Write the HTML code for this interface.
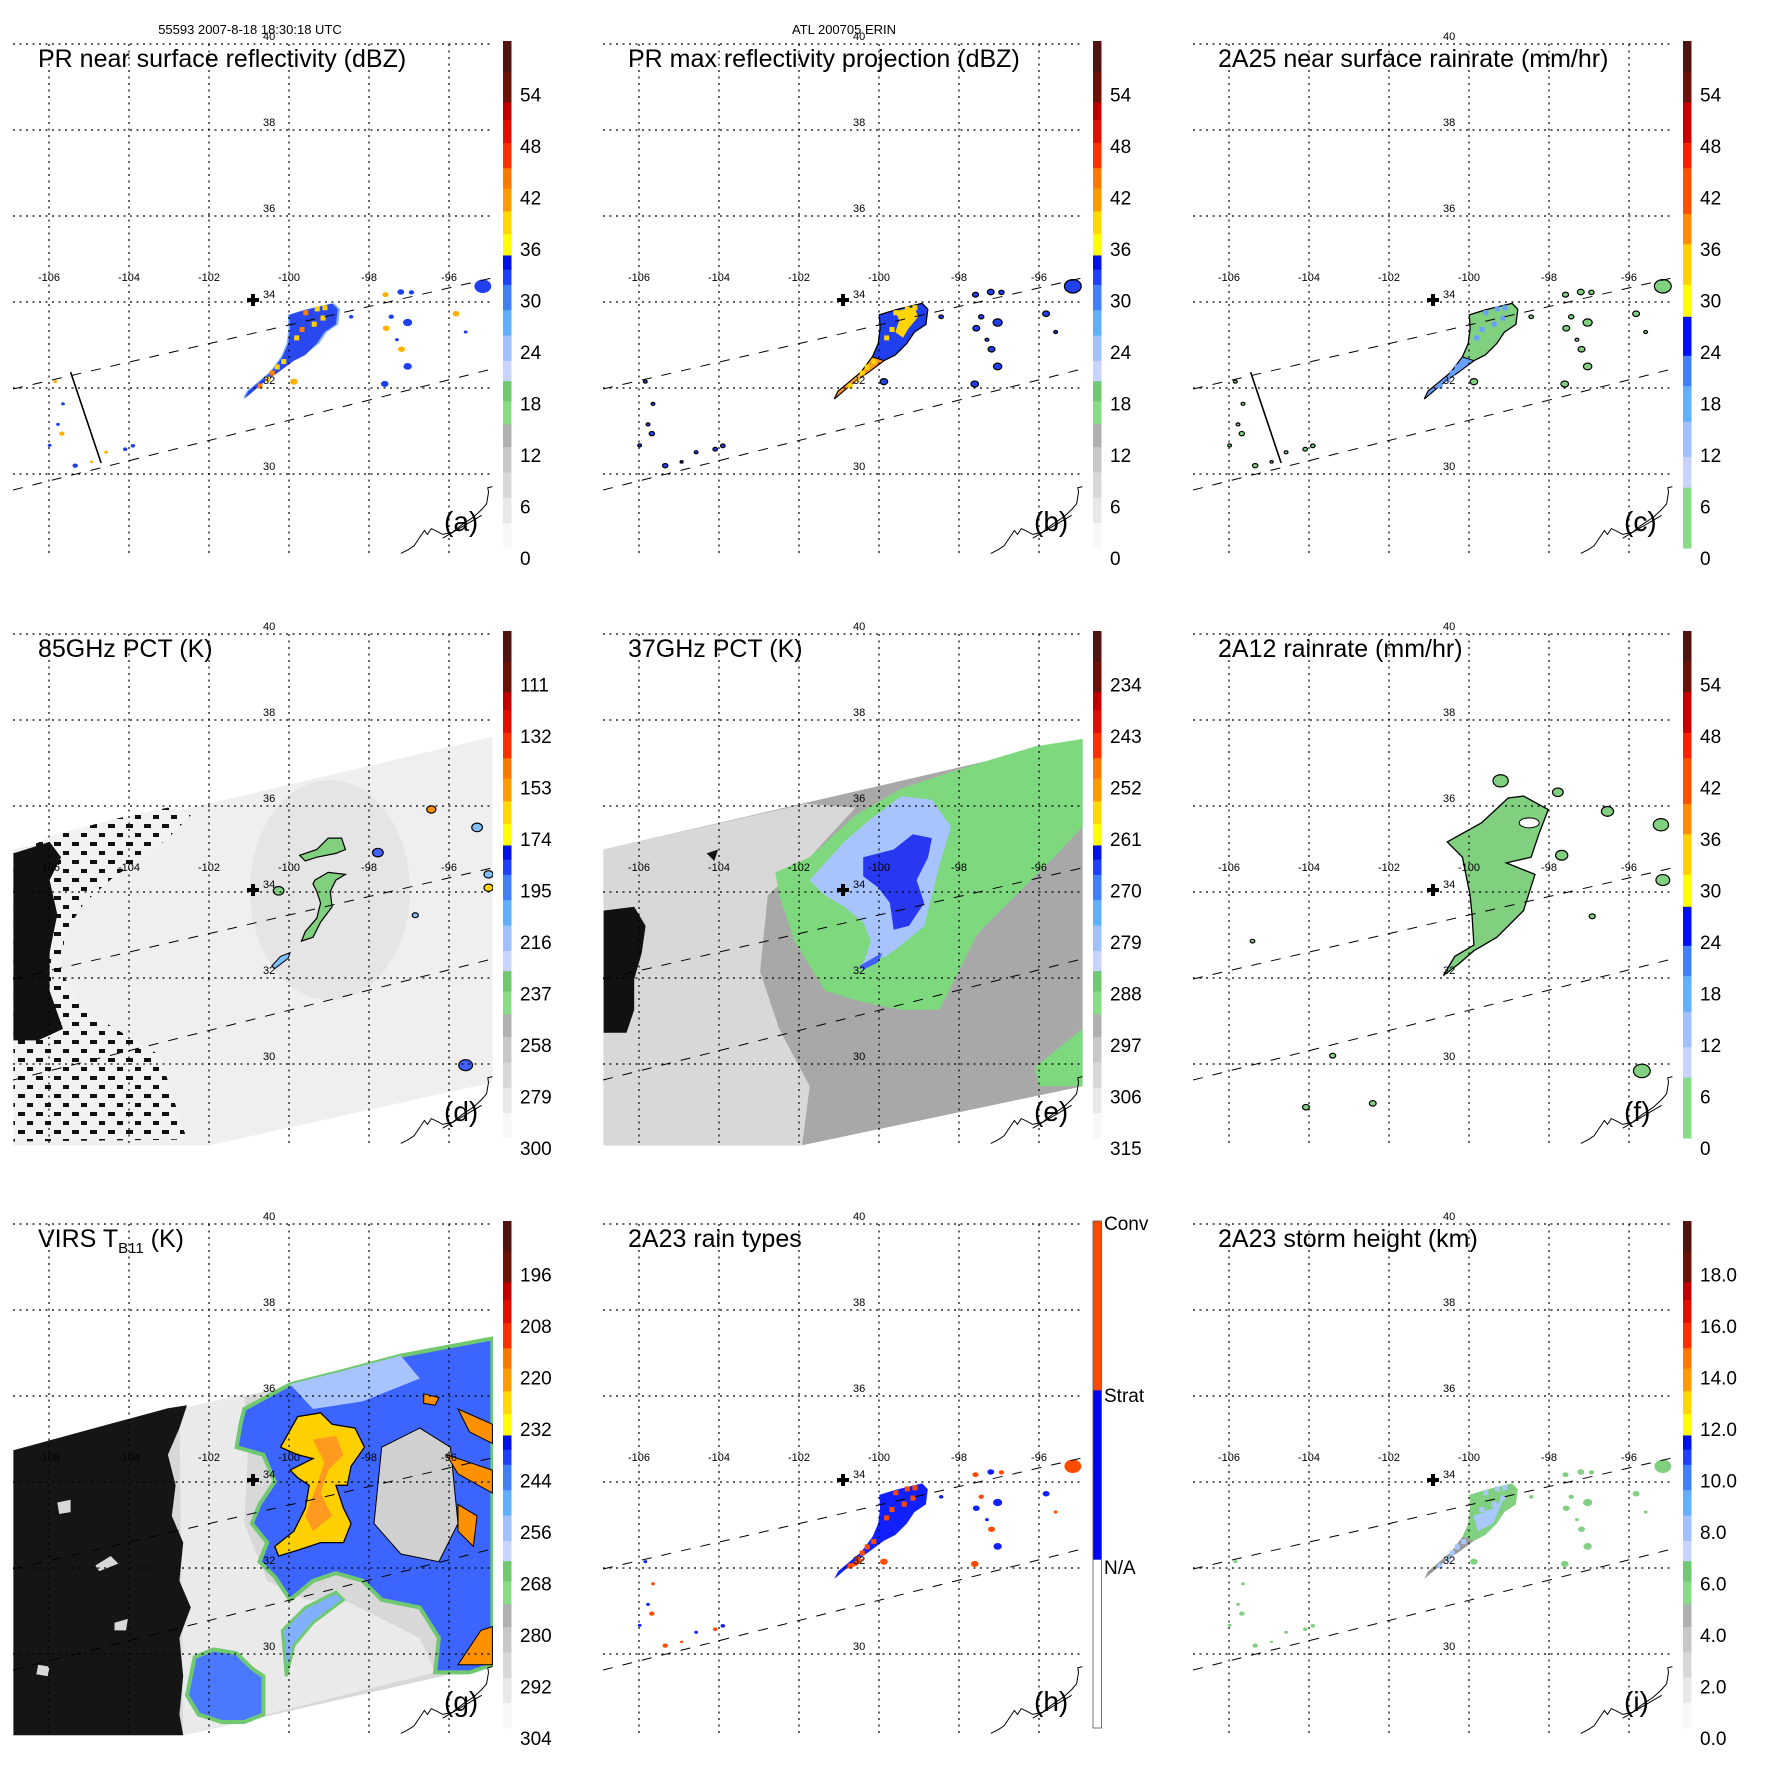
<!DOCTYPE html>
<html><head><meta charset="utf-8"><style>
html,body{margin:0;padding:0;background:#fff;}
svg{display:block;font-family:"Liberation Sans",sans-serif;}
</style></head><body>
<svg id="fig" width="1771" height="1771" viewBox="0 0 1771 1771" xmlns="http://www.w3.org/2000/svg">
<defs>
<pattern id="scat" width="18" height="18" patternUnits="userSpaceOnUse">
<rect width="18" height="18" fill="#f2f2f2"/>
<rect x="0" y="0" width="7" height="4" fill="#111"/>
<rect x="9" y="9" width="6" height="4" fill="#111"/>
</pattern>
</defs>
<text x="250" y="34" font-size="13" text-anchor="middle">55593 2007-8-18 18:30:18 UTC</text>
<text x="844" y="34" font-size="13" text-anchor="middle">ATL 200705 ERIN</text>
</svg>
<script>
// ---- colorbar data ----
const labelsA=['0','6','12','18','24','30','36','42','48','54'];
const labelsD=['300','279','258','237','216','195','174','153','132','111'];
const labelsE=['315','306','297','288','279','270','261','252','243','234'];
const labelsG=['304','292','280','268','256','244','232','220','208','196'];
const labelsI=['0.0','2.0','4.0','6.0','8.0','10.0','12.0','14.0','16.0','18.0'];
const labelsH=['N/A','Strat','Conv'];
const lonTicks=[-106,-104,-102,-100,-98,-96];
const latTicks=[40,38,36,34,32,30];
// colour stops (fraction from bottom, colour)
const stopsA=[[0,'#f8f8f8'],[.05,'#e8e8e8'],[.10,'#d8d8d8'],[.15,'#c8c8c8'],[.20,'#b0b0b0'],[.245,'#88dc88'],[.29,'#70c870'],[.33,'#c8d4ff'],[.37,'#a0c0ff'],[.42,'#60b0ff'],[.47,'#4080ff'],[.52,'#2040ff'],[.55,'#0010e8'],[.578,'#ffff00'],[.62,'#ffd800'],[.665,'#ff9a00'],[.71,'#ff7800'],[.75,'#ff3000'],[.80,'#e01000'],[.845,'#c00000'],[.88,'#6a1208'],[.94,'#501410'],[1,'#fff']];
const stopsF=[[0,'#88dc88'],[.12,'#c8d4ff'],[.18,'#a0c0ff'],[.25,'#60b0ff'],[.32,'#4080ff'],[.38,'#0010ff'],[.457,'#ffff00'],[.52,'#ffd000'],[.60,'#ff8c00'],[.66,'#ff5000'],[.75,'#ff2000'],[.80,'#c80000'],[.88,'#6a1208'],[.94,'#501410'],[1,'#fff']];
const stopsH=[[0,'#ffffff'],[.333,'#0000ff'],[.667,'#ff4a00'],[1,'#fff']];

const SVGNS='http://www.w3.org/2000/svg', Z=2.62;
const fig=document.getElementById('fig');
function mk(tag,attrs,parent){const e=document.createElementNS(SVGNS,tag);for(const k in attrs)e.setAttribute(k,attrs[k]);parent.appendChild(e);return e;}
function pts(a,dx){dx=dx||0;let s=[];for(let i=0;i<a.length;i+=2)s.push((a[i]/Z+dx).toFixed(1)+','+(a[i+1]/Z).toFixed(1));return s.join(' ');}
const X=lon=>289+(lon+100)*40, Y=lat=>302-(lat-34)*43;

// shared PR swath features (zoom coords)
const prMain=[758,825,800,812,870,795,885,810,880,850,850,870,830,900,800,930,770,945,750,960,730,975,700,995,670,1020,640,1045,650,1025,680,1000,710,975,740,935,755,900,760,860];
const prTail=[770,945,750,960,730,975,700,995,670,1020,640,1045,650,1025,680,1000,710,975,740,935];
const prCells=[[1010,772,8],[1050,765,9],[1078,766,7],[1012,860,9],[1025,830,7],[1068,845,12],[1052,915,9],[1068,960,11],[1008,1006,10],[1195,822,9],[1265,750,22],[920,830,6],[770,1000,10],[1040,890,5],[1220,870,5],[145,1000,5],[165,1058,5],[152,1112,5],[162,1136,7],[130,1167,5],[197,1220,7],[278,1185,5],[328,1177,6],[348,1168,6],[240,1210,4]];
const yellowDots=[[800,818],[830,808],[845,832],[790,862],[776,884],[742,946],[712,976],[700,992],[822,848],[680,1010],[725,960],[850,805]];

function poly(g,a,fill,name,extra,dx){const e=mk('polygon',Object.assign({points:pts(a,dx),fill:fill},extra||{}),g);

return e;}
function blob(g,cx,cy,r,fill,name,stroke,dx){const e=mk('ellipse',{cx:cx/Z+(dx||0),cy:cy/Z,rx:r/Z,ry:r*0.8/Z,fill:fill,stroke:stroke||'none','stroke-width':1.2},g);

return e;}

function drawPR(g,mode){
  const st=(mode==='b'||mode==='c')?{stroke:'#000','stroke-width':1.3}:{};
  let main= mode==='a'?'#2a48f0': mode==='b'?'#2040f0': mode==='c'?'#80d080': mode==='h'?'#1020ff':'#80d080';
  if(mode==='a') poly(g,prMain.map((v,i)=>v+(i%2?0:(v>800?6:-4))),'#80b0ff','echo-halo');
  poly(g,prMain,main,'main-echo',st);
  if(mode==='b'){poly(g,[800,815,850,805,860,830,835,860,820,885,800,870,810,840],'#ffd400','max-refl-core');poly(g,prTail,'#ff9a20','tail-core',{stroke:'#000','stroke-width':1});}
  if(mode==='c'){poly(g,prTail,'#6aa0ff','tail-rain',{stroke:'#000','stroke-width':1});}
  if(mode==='i'){poly(g,[770,880,820,860,850,830,820,900,780,920],'#a8c8ff','storm-height-mid');poly(g,prTail,'#9a9a9a','tail-height');}
  if(mode==='h'){poly(g,[720,990,690,1000,670,1020,700,1010,740,970],'#ff4a00','conv-tail');}
  yellowDots.forEach((d,i)=>{
    const c= mode==='a'?(i%3?'#ffd400':'#ff8000'): mode==='b'?'#ffd400': mode==='h'?'#ff4a00': mode==='c'?'#6aa0ff':'#a8c8ff';
    const r=mk('rect',{x:d[0]/Z-2,y:d[1]/Z-2,width:5,height:5,fill:c},g);
    
    
  });
  prCells.forEach((c,i)=>{
    const f= mode==='a'?(i%3?'#2040f0':'#ffb000'): mode==='b'?'#2040f0': mode==='c'?'#80d080': mode==='h'?(i%2?'#1020ff':'#ff4a00'):'#80d080';
    blob(g,c[0],c[1],c[2],f,'rain-cell',(mode==='b'||mode==='c')?'#000':'none');
  });
  if(mode==='a'||mode==='c'){const l=mk('line',{x1:185/Z,y1:975/Z,x2:265/Z,y2:1213/Z,stroke:'#000','stroke-width':1.6},g);
    
    }
}

function drawD(g){
  poly(g,[35,680,1290,385,1290,1290,548,1455,35,1455],'#efefef','tmi-swath');
  const h=mk('ellipse',{cx:330,cy:300,rx:80,ry:110,fill:'#d4d4d4',opacity:.35},g);
  
  
  poly(g,[35,690,150,640,300,600,440,570,500,590,440,650,380,700,300,750,220,820,170,900,160,1000,220,1100,320,1160,420,1220,450,1320,490,1440,35,1445],'url(#scat)','land-flag-scatter');
  poly(g,[35,690,130,660,160,700,130,760,150,850,130,950,130,1050,165,1150,100,1180,35,1180],'#111','land-flag-dense');
  poly(g,[785,695,830,680,860,650,895,650,905,680,880,690,830,700,800,710],'#80d080','ice-scatter-north',{stroke:'#000','stroke-width':1.2});
  poly(g,[825,760,860,740,905,745,880,760,865,790,870,830,840,870,820,910,790,920,800,895,830,860,840,820,830,790,820,770],'#80d080','ice-scatter-band',{stroke:'#000','stroke-width':1.2});
  poly(g,[712,985,735,960,760,950,755,965,720,992],'#80c0ff','ice-scatter-sw',{stroke:'#000','stroke-width':1});
  [[730,788,14,'#80d080'],[990,688,14,'#4060ff'],[1130,575,12,'#ff9000'],[1250,622,14,'#80c0ff'],[1280,745,12,'#80c0ff'],[1280,780,12,'#ffd400'],[1220,1245,18,'#4060ff'],[1088,852,8,'#80c0ff']].forEach(c=>blob(g,c[0],c[1],c[2],c[3],'scatter-cell','#000'));
}
function drawE(g){const dx=6;
  poly(g,[20,680,1275,390,1275,1300,540,1455,20,1455],'#a8a8a8','tmi-swath',null,dx);
  poly(g,[20,680,550,560,680,570,560,700,450,800,430,1000,480,1150,560,1300,540,1455,20,1455],'#d8d8d8','cold-land-region',null,dx);
  poly(g,[470,740,560,700,680,590,800,520,920,480,1050,440,1150,410,1275,390,1275,620,1200,700,1100,800,1000,900,950,1000,900,1100,800,1100,700,1080,600,1050,520,920,480,800],'#7ed87e','scatter-region',null,dx);
  poly(g,[1150,1250,1275,1150,1275,1300,1160,1300],'#7ed87e','scatter-se',null,dx);
  poly(g,[560,760,650,660,720,600,800,540,880,550,930,620,900,720,880,800,860,880,800,930,760,960,700,980,720,920,700,870,650,830,600,800],'#a8c4ff','moderate-scatter',null,dx);
  poly(g,[700,700,780,680,830,640,880,650,870,700,840,760,860,820,820,880,780,890,770,820,740,780,700,750],'#2838f0','strong-scatter',null,dx);
  poly(g,[690,985,750,950,740,975,700,995],'#4060ff','scatter-tail',null,dx);
  poly(g,[20,840,100,830,130,880,120,950,100,1020,100,1100,80,1160,20,1160],'#111','land-flag',null,dx);
  poly(g,[290,690,320,680,310,710],'#111','land-flag-small',null,dx);
}
function drawF(g){
  poly(g,[700,660,790,610,860,545,900,540,965,575,940,640,920,700,855,715,930,745,900,840,830,910,770,945,730,980,690,1010,720,960,770,930,765,850,760,800,740,700],'#80d080','rain-area',{stroke:'#000','stroke-width':1.3});
  const w=mk('ellipse',{cx:915/Z,cy:610/Z,rx:10,ry:5,fill:'#fff',stroke:'#000'},g);
  
  
  [[840,500,20],[990,530,14],[1120,580,16],[1260,615,20],[1265,760,18],[1000,695,16],[1080,855,8],[1210,1260,22],[330,1355,9],[505,1345,9],[190,920,6],[400,1220,8]].forEach(c=>blob(g,c[0],c[1],c[2],'#80d080','rain-cell','#000'));
}
function drawG(g){
  poly(g,[35,708,1290,415,1290,1270,480,1455,35,1455],'#d8d8d8','virs-swath');
  poly(g,[470,600,640,560,650,700,640,900,700,1050,800,1100,900,1100,1000,1150,1100,1200,1140,1290,480,1455],'#eaeaea','clear-sky');
  poly(g,[35,708,440,598,490,590,470,650,440,720,460,800,450,880,480,950,470,1050,500,1120,470,1200,480,1300,470,1400,480,1455,35,1455],'#151515','cold-land-dark');
  [[250,1010,290,985,310,1005,260,1025],[150,845,185,838,185,870,155,875],[300,1160,335,1150,330,1180,300,1180],[100,1270,130,1275,125,1300,95,1295]].forEach(a=>poly(g,a,'#d8d8d8','clear-patch'));
  poly(g,[640,600,760,535,900,500,1050,460,1290,415,1290,1270,1230,1290,1140,1290,1150,1200,1100,1120,1000,1100,950,1050,880,1030,820,1050,760,1100,720,1040,680,1000,700,950,660,900,680,850,720,790,690,720,620,700,630,640],'#3c64ff','cloud-shield',{stroke:'#70c870','stroke-width':4});
  poly(g,[760,535,900,500,1050,460,1100,520,950,580,820,600],'#a8c4ff','anvil-edge');
  poly(g,[1000,700,1100,650,1180,700,1200,900,1150,1000,1050,980,980,900],'#d0d0d0','cloud-gap',{stroke:'#000','stroke-width':1});
  poly(g,[735,700,780,620,840,610,870,640,930,650,955,700,920,750,910,800,880,800,900,860,920,900,900,950,840,950,780,970,730,985,720,960,770,920,800,860,810,800,780,780,760,760,800,740,820,730,780,720],'#ffd000','cold-tops',{stroke:'#000','stroke-width':1.3});
  poly(g,[820,680,880,670,900,720,860,760,840,820,870,880,820,920,800,880,830,800,850,740],'#ff9a20','coldest-tops');
  [[1200,600,1290,640,1290,690,1230,660],[1170,720,1290,760,1290,820,1200,770],[1200,850,1250,880,1240,960,1200,920],[1200,1270,1260,1180,1290,1170,1290,1270],[1110,560,1150,570,1140,590,1110,585]].forEach(a=>poly(g,a,'#ff9000','cold-band',{stroke:'#000','stroke-width':1}));
  poly(g,[510,1250,560,1230,620,1240,660,1280,690,1300,690,1400,640,1420,580,1420,520,1400,490,1350],'#4a78ff','southern-cells',{stroke:'#70c870','stroke-width':4});
  poly(g,[740,1180,800,1120,880,1080,900,1100,820,1160,770,1220,750,1300],'#80b0ff','convective-streak',{stroke:'#70c870','stroke-width':3});
}

const panels=[
 {c:0,r:0,t:'PR near surface reflectivity (dBZ)',l:labelsA,s:stopsA,k:'(a)',d:g=>drawPR(g,'a')},
 {c:1,r:0,t:'PR max reflectivity projection (dBZ)',l:labelsA,s:stopsA,k:'(b)',d:g=>drawPR(g,'b')},
 {c:2,r:0,t:'2A25 near surface rainrate (mm/hr)',l:labelsA,s:stopsF,k:'(c)',d:g=>drawPR(g,'c')},
 {c:0,r:1,t:'85GHz PCT (K)',l:labelsD,s:stopsA,k:'(d)',d:drawD},
 {c:1,r:1,t:'37GHz PCT (K)',l:labelsE,s:stopsA,k:'(e)',d:drawE},
 {c:2,r:1,t:'2A12 rainrate (mm/hr)',l:labelsA,s:stopsF,k:'(f)',d:drawF},
 {c:0,r:2,t:'VIRS',l:labelsG,s:stopsA,k:'(g)',d:drawG},
 {c:1,r:2,t:'2A23 rain types',l:labelsH,s:stopsH,k:'(h)',d:g=>drawPR(g,'h')},
 {c:2,r:2,t:'2A23 storm height (km)',l:labelsI,s:stopsA,k:'(i)',d:g=>drawPR(g,'i')}
];
const coast=[1050,1450,1070,1440,1085,1430,1095,1415,1105,1400,1112,1390,1120,1400,1130,1385,1145,1392,1160,1400,1185,1395,1210,1375,1240,1355,1262,1335,1275,1320,1280,1290,1278,1278,1290,1275];
panels.forEach((p,pi)=>{
  const g=mk('g',{transform:`translate(${p.c*590},${p.r*590})`},fig);
  
  
  const cp=mk('clipPath',{id:'clip'+pi},g);mk('rect',{x:13,y:44,width:480,height:512},cp);
  const m=mk('g',{'clip-path':`url(#clip${pi})`},g);
  
  
  p.d(m);
  [[13,389,492,278],[13,490,492,369]].forEach(s=>{const l=mk('line',{x1:s[0],y1:s[1],x2:s[2],y2:s[3],stroke:'#000','stroke-width':1,'stroke-dasharray':'10,10'},m);
    
    });
  latTicks.forEach(lat=>{const l=mk('line',{x1:13,y1:Y(lat),x2:492,y2:Y(lat),stroke:'#000','stroke-width':1.2,'stroke-dasharray':'2,4.5'},g);
    
    
    const t=mk('text',{x:263,y:Y(lat)-4,'font-size':11},g);t.textContent=String(lat);
    
    });
  lonTicks.forEach(lon=>{const l=mk('line',{x1:X(lon),y1:44,x2:X(lon),y2:556,stroke:'#000','stroke-width':1.2,'stroke-dasharray':'2,4.5'},g);
    
    
    const t=mk('text',{x:X(lon),y:281,'font-size':11,'text-anchor':'middle'},g);t.textContent=String(lon);
    
    });
  const cl=mk('polyline',{points:pts(coast),fill:'none',stroke:'#000','stroke-width':1},g);
  
  
  const cl2=mk('line',{x1:1160/Z,y1:1410/Z,x2:1262/Z,y2:1350/Z,stroke:'#000','stroke-width':1},g);
  
  
  const cr=mk('path',{d:'M247,300h12M253,294v12',stroke:'#000','stroke-width':4},g);
  
  
  const tt=mk('text',{x:38,y:67,'font-size':25},g);
  if(p.t==='VIRS'){tt.innerHTML='VIRS T<tspan font-size="15" dy="6">B11</tspan><tspan dy="-6"> (K)</tspan>';}else tt.textContent=p.t;
  
  
  const lt=mk('text',{x:444,y:531,'font-size':28},g);lt.textContent=p.k;
  
  
  const cb=mk('g',{},g);
  
  
  const top=41,bot=548,H=bot-top;
  for(let i=0;i<p.s.length-1;i++){const y0=bot-p.s[i+1][0]*H,y1=bot-p.s[i][0]*H;
    const r=mk('rect',{x:503,y:y0,width:8.5,height:y1-y0+0.5,fill:p.s[i][1]},cb);
    
    }
  if(p.l===labelsH){const o=mk('rect',{x:503,y:top,width:8.5,height:H,fill:'none',stroke:'#555','stroke-width':.8},cb);
    
    
    p.l.forEach((s,i)=>{const t=mk('text',{x:514,y:[387,215,43][i]+7,'font-size':19},cb);t.textContent=s;
      
      });}
  else p.l.forEach((s,i)=>{const t=mk('text',{x:520,y:558-i*51.5+7,'font-size':19},cb);t.textContent=s;
      
      });
});
</script>
</body></html>
